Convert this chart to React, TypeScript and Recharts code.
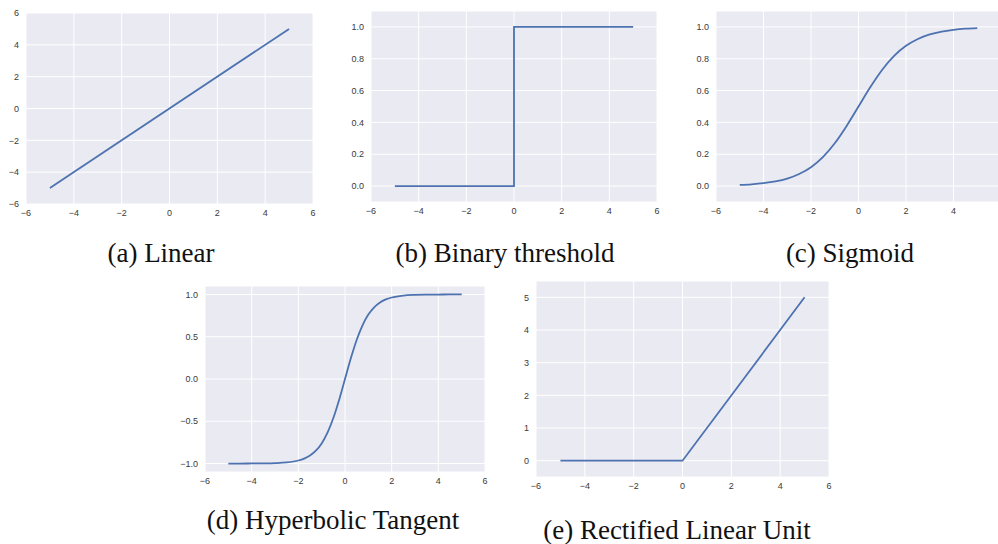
import React from "react";
import { LineChart, Line, XAxis, YAxis, CartesianGrid } from "recharts";

// ---- data ----
const xTicks = [-6, -4, -2, 0, 2, 4, 6];
const xTicksClipped = [-6, -4, -2, 0, 2, 4];

const linearX = [-5, 5];
const linearY = [-5, 5];
const linearYTicks = [-6, -4, -2, 0, 2, 4, 6];

const binaryX = [-5, 0, 0, 5];
const binaryY = [0, 0, 1, 1];
const unitYTicks = [0, 0.2, 0.4, 0.6, 0.8, 1.0];

const sigmoidX = [-5, -4.5, -4, -3.5, -3, -2.5, -2, -1.5, -1, -0.5, 0, 0.5, 1, 1.5, 2, 2.5, 3, 3.5, 4, 4.5, 5];
const sigmoidY = [0.007, 0.011, 0.018, 0.029, 0.047, 0.076, 0.119, 0.182, 0.269, 0.378, 0.5, 0.622, 0.731, 0.818, 0.881, 0.924, 0.953, 0.971, 0.982, 0.989, 0.993];

const tanhX = [-5, -4.5, -4, -3.5, -3, -2.5, -2, -1.75, -1.5, -1.25, -1, -0.75, -0.5, -0.25, 0, 0.25, 0.5, 0.75, 1, 1.25, 1.5, 1.75, 2, 2.5, 3, 3.5, 4, 4.5, 5];
const tanhY = [-1.0, -1.0, -0.999, -0.998, -0.995, -0.987, -0.964, -0.941, -0.905, -0.848, -0.762, -0.635, -0.462, -0.245, 0, 0.245, 0.462, 0.635, 0.762, 0.848, 0.905, 0.941, 0.964, 0.987, 0.995, 0.998, 0.999, 1.0, 1.0];
const tanhYTicks = [-1.0, -0.5, 0.0, 0.5, 1.0];

const reluX = [-5, 0, 5];
const reluY = [0, 0, 5];
const reluYTicks = [0, 1, 2, 3, 4, 5];

const captions = ["(a) Linear", "(b) Binary threshold", "(c) Sigmoid", "(d) Hyperbolic Tangent", "(e) Rectified Linear Unit"];

const zip = (xs: number[], ys: number[]) => xs.map((x, i) => ({ x, y: ys[i] }));

// ---- styling ----
const LINE = "#4C72B0";
const BG = "#EAEAF2";
const TICK = { fontSize: 9, fill: "#3a3a3a", fontFamily: "'Liberation Sans', Arial, sans-serif" };
const YW = 30;
const XH = 20;
const MT = 8;
const MR = 10;

const fmtInt = (v: number) => String(v).replace("-", "\u2212");
const fmt1 = (v: number) => v.toFixed(1).replace("-", "\u2212");

type PanelProps = {
  box: { x0: number; x1: number; y0: number; y1: number };
  data: { x: number; y: number }[];
  xT: number[];
  yDomain: [number, number];
  yTicks: number[];
  yFmt: (v: number) => string;
  curve: "linear" | "monotone";
};

function Panel({ box, data, xT, yDomain, yTicks, yFmt, curve }: PanelProps) {
  const w = box.x1 - box.x0 + YW + MR;
  const h = box.y1 - box.y0 + XH + MT;
  return (
    <div style={{ position: "absolute", left: box.x0 - YW, top: box.y0 - MT, width: w, height: h }}>
      <LineChart width={w} height={h} data={data} margin={{ top: MT, right: MR, bottom: 0, left: 0 }}>
        <CartesianGrid fill={BG} stroke="#ffffff" strokeWidth={1} />
        <XAxis
          type="number"
          dataKey="x"
          domain={[-6, 6]}
          ticks={xT}
          interval={0}
          axisLine={false}
          tickLine={false}
          tickSize={4}
          tickMargin={2}
          height={XH}
          tick={TICK}
          tickFormatter={fmtInt}
          allowDataOverflow
        />
        <YAxis
          type="number"
          domain={yDomain}
          ticks={yTicks}
          interval={0}
          axisLine={false}
          tickLine={false}
          tickSize={5}
          tickMargin={2}
          width={YW}
          tick={TICK}
          tickFormatter={yFmt}
          allowDataOverflow
        />
        <Line
          type={curve}
          dataKey="y"
          stroke={LINE}
          strokeWidth={1.8}
          dot={false}
          isAnimationActive={false}
        />
      </LineChart>
    </div>
  );
}

const capStyle: React.CSSProperties = {
  position: "absolute",
  transform: "translateX(-50%)",
  whiteSpace: "nowrap",
  fontFamily: "'Liberation Serif', 'Times New Roman', serif",
  fontSize: 27,
  lineHeight: "27px",
  color: "#111",
};

export default function App() {
  return (
    <div
      style={{
        position: "fixed",
        left: 0,
        top: 0,
        width: 998,
        height: 544,
        overflow: "hidden",
        background: "#fff",
      }}
    >
      <Panel box={{ x0: 26, x1: 313, y0: 13, y1: 204 }} data={zip(linearX, linearY)} xT={xTicks} yDomain={[-6, 6]} yTicks={linearYTicks} yFmt={fmtInt} curve="linear" />
      <Panel box={{ x0: 371, x1: 657, y0: 11, y1: 202 }} data={zip(binaryX, binaryY)} xT={xTicks} yDomain={[-0.1, 1.1]} yTicks={unitYTicks} yFmt={fmt1} curve="linear" />
      <Panel box={{ x0: 716, x1: 1001, y0: 11, y1: 202 }} data={zip(sigmoidX, sigmoidY)} xT={xTicksClipped} yDomain={[-0.1, 1.1]} yTicks={unitYTicks} yFmt={fmt1} curve="monotone" />
      <Panel box={{ x0: 205, x1: 485, y0: 286, y1: 472 }} data={zip(tanhX, tanhY)} xT={xTicks} yDomain={[-1.1, 1.1]} yTicks={tanhYTicks} yFmt={fmt1} curve="monotone" />
      <Panel box={{ x0: 536, x1: 829, y0: 281, y1: 477 }} data={zip(reluX, reluY)} xT={xTicks} yDomain={[-0.5, 5.5]} yTicks={reluYTicks} yFmt={fmtInt} curve="linear" />

      <div style={{ ...capStyle, left: 161, top: 240 }}>{captions[0]}</div>
      <div style={{ ...capStyle, left: 505, top: 240 }}>{captions[1]}</div>
      <div style={{ ...capStyle, left: 850, top: 240 }}>{captions[2]}</div>
      <div style={{ ...capStyle, left: 333, top: 507 }}>{captions[3]}</div>
      <div style={{ ...capStyle, left: 677, top: 517 }}>{captions[4]}</div>
    </div>
  );
}
